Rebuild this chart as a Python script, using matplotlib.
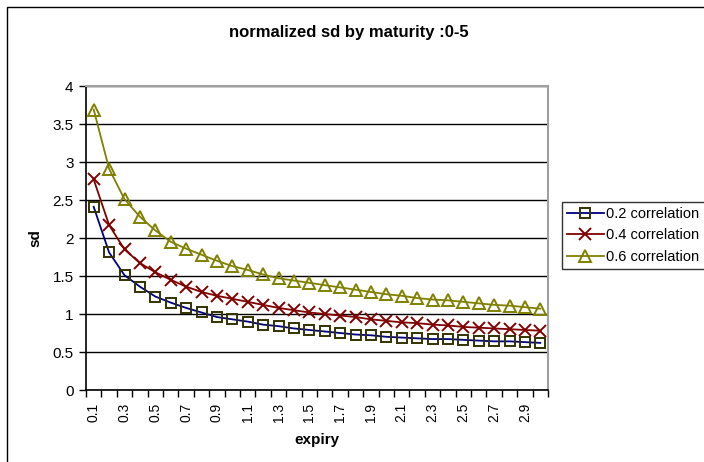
import matplotlib
matplotlib.use("Agg")
import matplotlib.pyplot as plt
from matplotlib.patches import Rectangle

plt.rcParams['font.family'] = ['Liberation Sans', 'DejaVu Sans']

expiry = ["0.1", "0.2", "0.3", "0.4", "0.5", "0.6", "0.7", "0.8", "0.9", "1",
          "1.1", "1.2", "1.3", "1.4", "1.5", "1.6", "1.7", "1.8", "1.9", "2",
          "2.1", "2.2", "2.3", "2.4", "2.5", "2.6", "2.7", "2.8", "2.9", "3"]

corr_02 = [2.41, 1.81, 1.51, 1.36, 1.23, 1.15, 1.08, 1.02, 0.96, 0.93,
           0.90, 0.86, 0.84, 0.81, 0.79, 0.77, 0.75, 0.73, 0.72, 0.70,
           0.69, 0.68, 0.67, 0.67, 0.66, 0.65, 0.64, 0.64, 0.63, 0.62]
corr_04 = [2.77, 2.17, 1.85, 1.67, 1.55, 1.45, 1.36, 1.29, 1.24, 1.20,
           1.16, 1.12, 1.08, 1.05, 1.02, 1.00, 0.98, 0.96, 0.93, 0.91,
           0.89, 0.88, 0.86, 0.85, 0.83, 0.82, 0.81, 0.80, 0.79, 0.78]
corr_06 = [3.69, 2.91, 2.51, 2.28, 2.10, 1.95, 1.86, 1.78, 1.70, 1.63,
           1.58, 1.52, 1.47, 1.44, 1.41, 1.38, 1.35, 1.32, 1.29, 1.26,
           1.24, 1.21, 1.19, 1.18, 1.16, 1.14, 1.12, 1.11, 1.09, 1.07]

series_labels = ["0.2 correlation", "0.4 correlation", "0.6 correlation"]
ytick_vals = [0, 0.5, 1, 1.5, 2, 2.5, 3, 3.5, 4]
ytick_labels = ["0", "0.5", "1", "1.5", "2", "2.5", "3", "3.5", "4"]

W, H = 704, 462
fig = plt.figure(figsize=(W / 100, H / 100), dpi=100)
fig.patch.set_facecolor('white')

# outer chart border (extends beyond the image on right/bottom)
fig.patches.append(Rectangle((7 / W, -0.1), 1.2, 1 - 7 / H + 0.1,
                             transform=fig.transFigure, fill=False,
                             edgecolor='black', linewidth=1.0))

ax = fig.add_axes([86 / W, (H - 390) / H, (548 - 86) / W, (390 - 86) / H])
x = list(range(len(expiry)))

ax.plot(x, corr_02, color='#000080', linewidth=1.3, marker='s', markersize=7,
        markerfacecolor='none', markeredgecolor='#333300', markeredgewidth=1.4,
        label=series_labels[0], zorder=3)
ax.plot(x, corr_04, color='#800000', linewidth=1.3, marker='x', markersize=8,
        markeredgecolor='#800000', markeredgewidth=1.4,
        label=series_labels[1], zorder=3)
ax.plot(x, corr_06, color='#808000', linewidth=1.3, marker='^', markersize=9,
        markerfacecolor='none', markeredgecolor='#808000', markeredgewidth=1.4,
        label=series_labels[2], zorder=3)

ax.set_xlim(-0.5, len(expiry) - 0.5)
ax.set_ylim(0, 4)
ax.set_yticks(ytick_vals)
ax.set_yticklabels(ytick_labels, fontsize=11)
ax.yaxis.grid(True, color='black', linewidth=1.0)
ax.set_axisbelow(True)

# category boundary ticks, labels at every other category
ax.set_xticks([i - 0.5 for i in range(len(expiry) + 1)])
ax.set_xticklabels([])
ax.set_xticks(x[::2], minor=True)
ax.set_xticklabels(expiry[::2], minor=True, rotation=90, fontsize=10)
ax.tick_params(axis='x', which='major', length=5, width=1, direction='out', color='black')
ax.tick_params(axis='x', which='minor', length=0, pad=9)
ax.tick_params(axis='y', length=5, width=1, direction='out', pad=4)

for s in ['left', 'bottom']:
    ax.spines[s].set_color('black')
    ax.spines[s].set_linewidth(1.2)
for s in ['top', 'right']:
    ax.spines[s].set_color('#a0a0a0')
    ax.spines[s].set_linewidth(1.5)

ax.set_xlabel('expiry', fontsize=11, fontweight='bold', labelpad=8)
ax.set_ylabel('sd', fontsize=11, fontweight='bold', labelpad=7)

fig.text(349 / W, 1 - 33 / H, 'normalized sd by maturity :0-5', ha='center', va='center',
         fontsize=12, fontweight='bold')

leg = fig.legend(loc='upper left', bbox_to_anchor=(562 / W, 1 - 202 / H),
                 fontsize=10.5, frameon=True, fancybox=False, borderpad=0.35,
                 handlelength=2.5, handletextpad=0.2, labelspacing=0.5,
                 borderaxespad=0)
leg.get_frame().set_edgecolor('black')
leg.get_frame().set_linewidth(1.0)

fig.savefig('out.png', dpi=100)
